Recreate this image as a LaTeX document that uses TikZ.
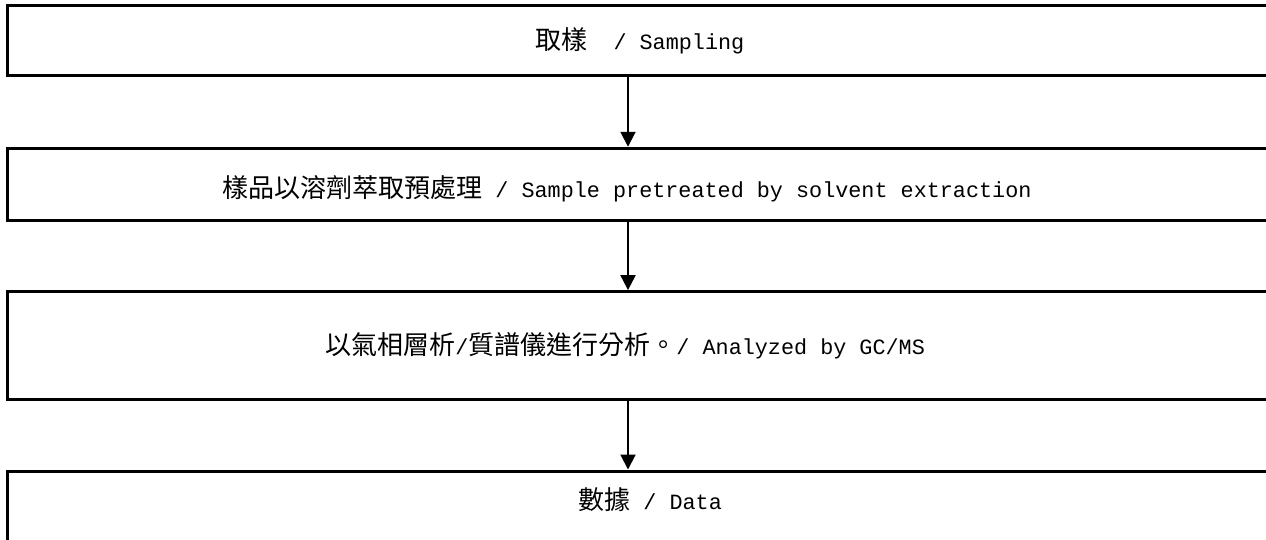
\documentclass[tikz,border=0pt]{standalone}
\usepackage{fontspec}
\setmainfont{Liberation Mono}
\newfontfamily\cjk{Noto Sans CJK TC}
\usetikzlibrary{arrows.meta}

\newcommand{\zh}[1]{{\cjk\fontsize{14.8pt}{16pt}\selectfont #1}}

\tikzset{
  stepbox/.style={draw, line width=1.7pt, anchor=west, minimum width=26.5cm, inner sep=0pt},
  steptext/.style={anchor=west, inner sep=0pt, font=\fontsize{12.4pt}{14pt}\selectfont},
  flowarrow/.style={line width=1.13pt, -{Triangle[length=0.3cm, width=0.3cm]}}
}

\begin{document}
\begin{tikzpicture}[x=0.02cm, y=-0.02cm]
    \clip (0,0) rectangle (1266,540);
    \coordinate (ax) at (628,0);

    % the four steps, all running off the right edge
    \foreach \n/\y/\h in {1/40.75/1.41, 2/184.5/1.45, 3/345.35/2.15, 4/507/1.44} {
        \node[stepbox, minimum height=\h cm] (box\n) at (6,\y) {};
      }

    \node[steptext] (txt1) at (535,40.75) {\zh{取樣}\ \ / Sampling};
    \node[steptext] (txt2) at (222,189) {\zh{樣品以溶劑萃取預處理} / Sample pretreated by solvent extraction};
    \node[steptext] (txt3) at (325,345.35) {\zh{以氣相層析}/\zh{質譜儀進行分析。}/ Analyzed by GC/MS};
    \node[steptext] (txt4) at (578,500) {\zh{數據} / Data};

    \foreach \a/\b in {1/2, 2/3, 3/4} {
        \draw[flowarrow] (box\a.south -| ax) -- (box\b.north -| ax);
      }
    \end{tikzpicture}
\end{document}
